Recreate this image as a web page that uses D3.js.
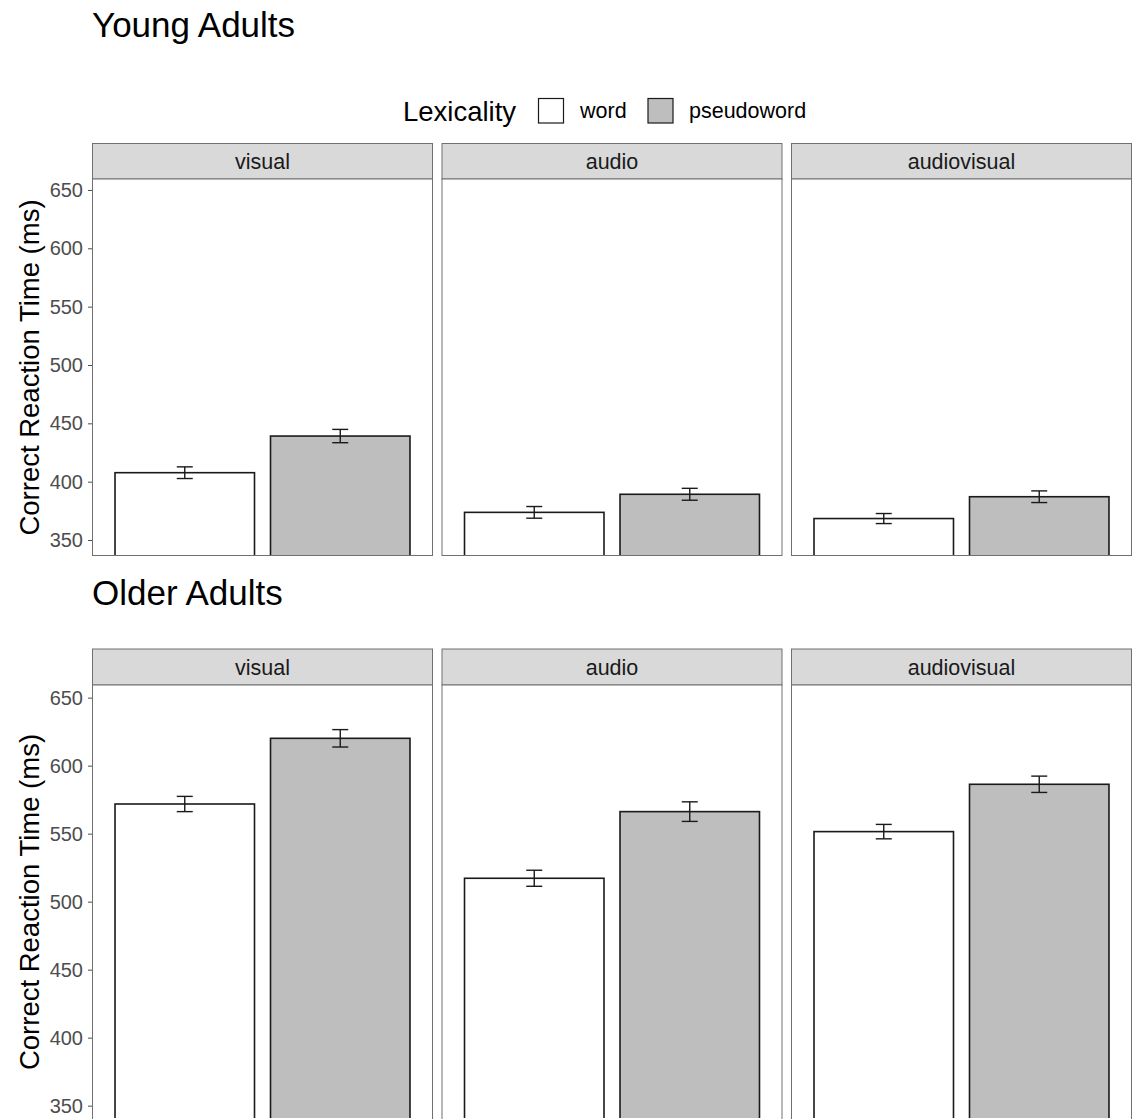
<!DOCTYPE html>
<html>
<head>
<meta charset="utf-8">
<script src="https://cdn.jsdelivr.net/npm/d3@7"></script>
<style>
  body { margin: 0; background: #fff; }
  text { font-family: "Liberation Sans", Arial, sans-serif; }
</style>
</head>
<body>
<svg id="graph"></svg>
<script>
const modalities = ["visual", "audio", "audiovisual"];
const lexicality = ["word", "pseudoword"];
const groups = ["Young Adults", "Older Adults"];
const yTicks = [350, 400, 450, 500, 550, 600, 650];

// mean correct RT (ms), one value per modality
const youngWord = [407.7, 373.7, 368.4];
const youngPseudo = [439.1, 389.2, 387.1];
const youngWordErr = [5.0, 5.0, 4.3];
const youngPseudoErr = [5.7, 5.1, 5.0];

const olderWord = [571.8, 517.2, 551.5];
const olderPseudo = [620.1, 566.2, 586.3];
const olderWordErr = [5.6, 5.9, 5.3];
const olderPseudoErr = [6.4, 7.2, 6.0];

const width = 1133;
const height = 1119;
const fills = { word: "#ffffff", pseudoword: "#bebebe" };

const rows = [
  { title: groups[0], titleY: 37, stripTop: 143.5, top: 179, bottom: 556,
    domain: [336.3, 659.4], word: youngWord, pseudo: youngPseudo,
    wordErr: youngWordErr, pseudoErr: youngPseudoErr },
  { title: groups[1], titleY: 605, stripTop: 649, top: 685, bottom: 1119,
    domain: [340.2, 659.3], word: olderWord, pseudo: olderPseudo,
    wordErr: olderWordErr, pseudoErr: olderPseudoErr }
];

const svg = d3.select("#graph")
  .attr("width", width)
  .attr("height", height)
  .attr("viewBox", [0, 0, width, height]);

const facet = d3.scaleBand()
  .domain(modalities)
  .range([92, 1132])
  .paddingInner(0.0243);

const xInner = d3.scaleBand()
  .domain(lexicality)
  .range([0, facet.bandwidth()])
  .paddingInner(0.103)
  .paddingOuter(0.148);

rows.forEach((row) => {
  const y = d3.scaleLinear().domain(row.domain).range([row.bottom, row.top]);
  const g = svg.append("g");

  g.append("text")
    .attr("x", 92)
    .attr("y", row.titleY)
    .attr("font-size", 35)
    .attr("fill", "#000")
    .text(row.title);

  // y axis
  g.append("g")
    .attr("transform", `translate(${facet.range()[0]},0)`)
    .call(d3.axisLeft(y).tickValues(yTicks).tickSize(4).tickPadding(5))
    .call((a) => a.select(".domain").remove())
    .call((a) => a.selectAll("line").attr("stroke", "#4d4d4d"))
    .call((a) =>
      a.selectAll("text")
        .attr("font-size", 20)
        .attr("fill", "#4d4d4d")
        .style("font-family", "'Liberation Sans', Arial, sans-serif")
    );

  g.append("text")
    .attr("transform", `translate(39,${(row.top + row.bottom) / 2}) rotate(-90)`)
    .attr("text-anchor", "middle")
    .attr("font-size", 27.5)
    .attr("fill", "#000")
    .text("Correct Reaction Time (ms)");

  const cells = modalities.map((m, i) => ({
    modality: m,
    bars: [
      { lex: "word", value: row.word[i], err: row.wordErr[i] },
      { lex: "pseudoword", value: row.pseudo[i], err: row.pseudoErr[i] }
    ]
  }));

  const panel = g.selectAll("g.panel")
    .data(cells)
    .join("g")
    .attr("class", "panel")
    .attr("transform", (d) => `translate(${facet(d.modality)},0)`);

  // strip
  panel.append("rect")
    .attr("x", 0.5)
    .attr("y", row.stripTop)
    .attr("width", facet.bandwidth() - 1)
    .attr("height", row.top - row.stripTop)
    .attr("fill", "#d9d9d9")
    .attr("stroke", "#707070")
    .attr("stroke-width", 1);

  panel.append("text")
    .attr("x", facet.bandwidth() / 2)
    .attr("y", (row.stripTop + row.top) / 2 + 7.5)
    .attr("text-anchor", "middle")
    .attr("font-size", 21.5)
    .attr("fill", "#1a1a1a")
    .text((d) => d.modality);

  panel.append("rect")
    .attr("x", 0.5)
    .attr("y", row.top)
    .attr("width", facet.bandwidth() - 1)
    .attr("height", row.bottom - row.top + (row.bottom >= height ? 10 : -0.5))
    .attr("fill", "#fff")
    .attr("stroke", "#707070")
    .attr("stroke-width", 1);

  const clip = `clip-${row.title.replace(/\s/g, "")}`;
  svg.append("clipPath").attr("id", clip)
    .append("rect")
    .attr("x", 0).attr("y", row.top)
    .attr("width", facet.bandwidth()).attr("height", row.bottom - row.top - 1);

  panel.append("g")
    .attr("clip-path", `url(#${clip})`)
    .selectAll("rect")
    .data((d) => d.bars)
    .join("rect")
    .attr("x", (d) => xInner(d.lex))
    .attr("y", (d) => y(d.value))
    .attr("width", xInner.bandwidth())
    .attr("height", (d) => row.bottom - y(d.value) + 5)
    .attr("fill", (d) => fills[d.lex])
    .attr("stroke", "#1a1a1a")
    .attr("stroke-width", 1.6);

  const eb = panel.selectAll("g.err")
    .data((d) => d.bars)
    .join("g")
    .attr("class", "err")
    .attr("stroke", "#1a1a1a")
    .attr("stroke-width", 1.4);
  const cx = (d) => xInner(d.lex) + xInner.bandwidth() / 2;
  eb.append("line")
    .attr("x1", cx).attr("x2", cx)
    .attr("y1", (d) => y(d.value - d.err))
    .attr("y2", (d) => y(d.value + d.err));
  eb.append("line")
    .attr("x1", (d) => cx(d) - 8).attr("x2", (d) => cx(d) + 8)
    .attr("y1", (d) => y(d.value + d.err))
    .attr("y2", (d) => y(d.value + d.err));
  eb.append("line")
    .attr("x1", (d) => cx(d) - 8).attr("x2", (d) => cx(d) + 8)
    .attr("y1", (d) => y(d.value - d.err))
    .attr("y2", (d) => y(d.value - d.err));
});

// legend
const legend = svg.append("g");
legend.append("text")
  .attr("x", 403)
  .attr("y", 121)
  .attr("font-size", 27.5)
  .attr("fill", "#000")
  .text("Lexicality");

const keyX = [538.5, 648];
const labelX = [580, 689];
lexicality.forEach((lex, i) => {
  legend.append("rect")
    .attr("x", keyX[i])
    .attr("y", 98.5)
    .attr("width", 25)
    .attr("height", 24.5)
    .attr("fill", fills[lex])
    .attr("stroke", "#1a1a1a")
    .attr("stroke-width", 1.2);
  legend.append("text")
    .attr("x", labelX[i])
    .attr("y", 118)
    .attr("font-size", 21.5)
    .attr("fill", "#000")
    .text(lex);
});
</script>
</body>
</html>
